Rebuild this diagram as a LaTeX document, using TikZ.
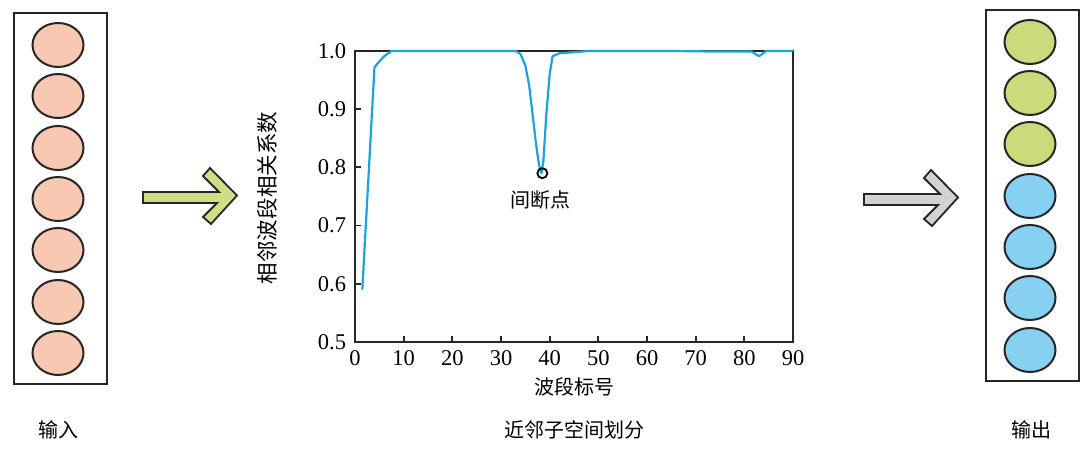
\documentclass[tikz,border=0pt]{standalone}
\usepackage{fontspec}
\setmainfont{Liberation Serif}
\newfontfamily\cjk{Noto Sans CJK SC}
\usetikzlibrary{shapes.geometric}
\definecolor{peach}{HTML}{F8C8B2}
\definecolor{lgreen}{HTML}{CBDB7C}
\definecolor{lblue}{HTML}{86D1F2}
\definecolor{agreen}{HTML}{CFDD84}
\definecolor{agray}{HTML}{D2D2D2}
\definecolor{curve}{HTML}{1CA3DD}
\tikzset{
  cell/.style={ellipse, draw=black!85, line width=2pt, minimum width=51pt, minimum height=44pt, inner sep=0pt},
  incell/.style={cell, fill=peach},
  gcell/.style={cell, fill=lgreen},
  bcell/.style={cell, fill=lblue},
  frame/.style={draw=black!85, line width=2pt, fill=white},
  bigarrow/.style={draw=black!85, line width=1.8pt, line join=miter},
  lab/.style={font=\cjk\fontsize{20}{20}\selectfont, inner sep=0pt},
  num/.style={font=\fontsize{22.5}{22.5}\selectfont, inner sep=0pt}
}
\begin{document}
\begin{tikzpicture}[x=1pt, y=-1pt]
\useasboundingbox (0,0) rectangle (1092,462);
% input box
\node[frame, minimum width=93pt, minimum height=371pt, inner sep=0pt] (inbox) at (60.5,198.5) {};
\foreach \i/\y in {1/45,2/96,3/148,4/199,5/250,6/302,7/353}
  \node[incell] (in\i) at (58,\y) {};
\node[lab] (inlab) at (58,430) {输入};
% output box
\node[frame, minimum width=93pt, minimum height=371pt, inner sep=0pt] (outbox) at (1032.5,195.5) {};
\foreach \i/\y in {1/42,2/93,3/144}
  \node[gcell] (out\i) at (1030,\y) {};
\foreach \i/\y in {4/196,5/247,6/298,7/350}
  \node[bcell] (out\i) at (1030,\y) {};
\node[lab] (outlab) at (1031,430) {输出};
% arrows
\draw[bigarrow, fill=agreen] (143,192) -- (219,192) -- (203,176) -- (210,168) -- (237,195.5) -- (211,224) -- (203,217) -- (217,203) -- (143,203) -- cycle;
\draw[bigarrow, fill=agray, shift={(721pt,-2pt)}] (143,192) -- (219,192) -- (203,176) -- (210,168) -- (237,195.5) -- (211,224) -- (203,217) -- (217,203) -- (143,203) -- cycle;
% plot
\begin{scope}[shift={(355pt,-342pt)}, x=4.8667pt, y=5.82pt]
  \coordinate (o) at (0,0);
  \coordinate (tr) at (90,50);
  \draw[line width=2pt, black!85] (o) rectangle (tr);
  \foreach \t in {10,20,...,80} \draw[line width=1.8pt, black!85] (\t,0) -- (\t,1.1);
  \foreach \t in {10,20,30,40} \draw[line width=1.8pt, black!85] (0,\t) -- (1.3,\t);
  \foreach \t in {0,10,...,90} \node[num, anchor=north] (xl\t) at (\t,-1.4) {\t};
  \foreach \t/\l in {0/0.5,10/0.6,20/0.7,30/0.8,40/0.9,50/1.0} \node[num, anchor=east] (yl\t) at (-1.8,\t) {\l};
  \draw[curve, line width=2.2pt, line join=round] plot coordinates {(1.5,9) (4,47.2) (5,48.2) (6,49.1) (7.5,50) (33,50) (34,49.5) (35,47.5) (35.8,44) (36.5,39) (37.2,34) (37.8,30.5) (38.3,29) (38.7,31) (39.3,39) (40,46) (40.6,49.1) (42,49.6) (45,49.8) (48,50) (65,50) (75,49.9) (81.5,49.9) (83,49.1) (84.5,50) (90,50)};
  \node[draw=black, line width=1.8pt, circle, minimum size=10pt, inner sep=0pt] (bp) at (38.5,29) {};
  \node[lab, anchor=north] (bplab) at (38.2,26) {间断点};
\end{scope}
\node[lab, font=\cjk\fontsize{21.5}{21.5}\selectfont, rotate=90] (ytitle) at (267,198) {相邻波段相关系数};
\node[lab] (xtitle) at (574,387) {波段标号};
\node[lab] (ctitle) at (574,430) {近邻子空间划分};
\end{tikzpicture}
\end{document}
